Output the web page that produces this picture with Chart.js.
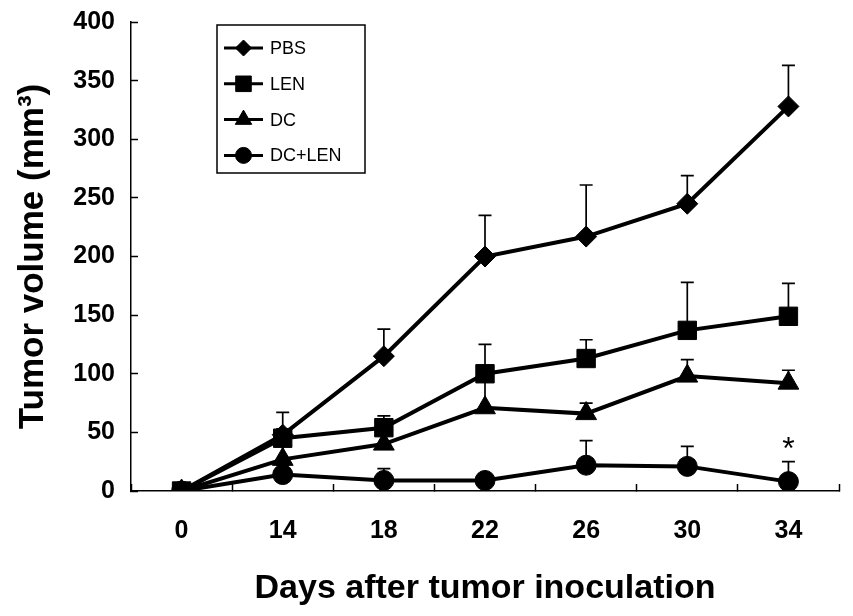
<!DOCTYPE html>
<html>
<head>
<meta charset="utf-8">
<script src="https://cdn.jsdelivr.net/npm/chart.js@4.4.0/dist/chart.umd.min.js"></script>
<style>
  body { margin: 0; background: #fff; }
  #wrap { width: 853px; height: 616px; }
</style>
</head>
<body>
<div id="wrap"><canvas id="tumor" width="853" height="616"></canvas></div>
<script>
var days = ['0', '14', '18', '22', '26', '30', '34'];

var pbs = [0, 48, 115, 200, 217, 245, 328];
var pbsErr = [0, 19, 23, 35, 44, 24, 35];

var len = [0, 45, 54, 100, 113, 137, 149];
var lenErr = [0, 8, 10, 25, 16, 41, 28];

var dc = [0, 27, 40, 71, 66, 98, 92];
var dcErr = [0, 17, 12, 28, 9, 14, 11];

var dcLen = [0, 14, 9, 9, 22, 21, 8];
var dcLenErr = [0, 8, 10, 4, 21, 17, 17];

var yTicks = [0, 50, 100, 150, 200, 250, 300, 350, 400];

var FONT = '"Liberation Sans", Arial, sans-serif';

function series(label, data, err, style, radius) {
  return {
    label: label,
    data: data,
    errors: err,
    borderColor: '#000',
    backgroundColor: '#000',
    borderWidth: 4,
    pointStyle: style,
    pointRadius: radius,
    pointHoverRadius: radius,
    pointBorderWidth: 1,
    pointBorderColor: '#000',
    pointBackgroundColor: '#000',
    tension: 0
  };
}

// upward error bars, drawn under the markers
var errorBars = {
  id: 'errorBars',
  beforeDatasetsDraw: function(chart) {
    var ctx = chart.ctx;
    var y = chart.scales.y;
    ctx.save();
    ctx.strokeStyle = '#000';
    ctx.lineWidth = 1.7;
    chart.data.datasets.forEach(function(ds, i) {
      var meta = chart.getDatasetMeta(i);
      meta.data.forEach(function(pt, j) {
        var e = ds.errors[j];
        if (!e) return;
        var top = y.getPixelForValue(ds.data[j] + e);
        ctx.beginPath();
        ctx.moveTo(pt.x, pt.y);
        ctx.lineTo(pt.x, top);
        ctx.moveTo(pt.x - 6.5, top);
        ctx.lineTo(pt.x + 6.5, top);
        ctx.stroke();
      });
    });
    ctx.restore();
  }
};

// significance star above the last DC+LEN error bar
var star = {
  id: 'star',
  afterDatasetsDraw: function(chart) {
    var ctx = chart.ctx;
    var ds = chart.data.datasets[3];
    var meta = chart.getDatasetMeta(3);
    var j = ds.data.length - 1;
    var pt = meta.data[j];
    var top = chart.scales.y.getPixelForValue(ds.data[j] + ds.errors[j]);
    ctx.save();
    ctx.fillStyle = '#000';
    ctx.font = '32px ' + FONT;
    ctx.textAlign = 'center';
    ctx.textBaseline = 'alphabetic';
    ctx.fillText('*', pt.x, top - 3);
    ctx.restore();
  }
};

// boxed legend in the upper left of the plot
var boxLegend = {
  id: 'boxLegend',
  afterDraw: function(chart) {
    var ctx = chart.ctx;
    var sizes = [8, 11, 9.5, 8];
    ctx.save();
    ctx.strokeStyle = '#000';
    ctx.lineWidth = 1.5;
    ctx.strokeRect(217, 25, 148, 148);
    chart.data.datasets.forEach(function(ds, i) {
      var cy = 48 + i * 35.8;
      ctx.strokeStyle = '#000';
      ctx.lineWidth = 3;
      ctx.beginPath();
      ctx.moveTo(224, cy);
      ctx.lineTo(263, cy);
      ctx.stroke();
      ctx.fillStyle = '#000';
      ctx.lineWidth = 1;
      Chart.helpers.drawPoint(ctx, {
        pointStyle: ds.pointStyle,
        radius: sizes[i],
        rotation: 0,
        borderWidth: 1
      }, 243.5, cy);
      ctx.fillStyle = '#000';
      ctx.font = '18px ' + FONT;
      ctx.textAlign = 'left';
      ctx.textBaseline = 'middle';
      ctx.fillText(ds.label, 270, cy + 1);
    });
    ctx.restore();
  }
};

var tumorCanvas = document.getElementById('tumor');

var tumorData = {
  labels: days,
  datasets: [
    series('PBS', pbs, pbsErr, 'rectRot', 10.5),
    series('LEN', len, lenErr, 'rect', 13),
    series('DC', dc, dcErr, 'triangle', 12),
    series('DC+LEN', dcLen, dcLenErr, 'circle', 10)
  ]
};

var tumorOptions = {
  responsive: false,
  animation: false,
  layout: {
    padding: { top: 22, right: 12, left: 0, bottom: 0 }
  },
  plugins: {
    legend: { display: false },
    tooltip: { enabled: false }
  },
  scales: {
    x: {
      type: 'category',
      offset: true,
      afterFit: function(scale) { scale.height = 125; },
      grid: {
        offset: true,
        drawOnChartArea: false,
        tickLength: -7,
        tickWidth: 1.5,
        tickColor: '#000'
      },
      border: { display: true, color: '#000', width: 1.5 },
      ticks: {
        color: '#000',
        padding: 32,
        maxRotation: 0,
        font: { family: FONT, size: 25, weight: 'bold' }
      },
      title: {
        display: true,
        text: 'Days after tumor inoculation',
        color: '#000',
        padding: { top: 0, bottom: 7 },
        font: { family: FONT, size: 34, weight: 'bold' }
      }
    },
    y: {
      min: 0,
      max: 400,
      afterFit: function(scale) {
        scale.width = 131;
        scale.paddingTop = 0;
        scale.paddingBottom = 0;
      },
      afterBuildTicks: function(scale) {
        scale.ticks = yTicks.map(function(v) { return { value: v }; });
      },
      grid: {
        drawOnChartArea: false,
        tickLength: -7,
        tickWidth: 1.5,
        tickColor: '#000'
      },
      border: { display: true, color: '#000', width: 1.5 },
      ticks: {
        color: '#000',
        padding: 23,
        font: { family: FONT, size: 25, weight: 'bold' }
      },
      title: {
        display: true,
        text: 'Tumor volume (mm³)',
        color: '#000',
        padding: { top: 12, bottom: 0 },
        font: { family: FONT, size: 35, weight: 'bold' }
      }
    }
  }
};

var tumorChart = new Chart(tumorCanvas, {
  type: 'line',
  data: tumorData,
  options: tumorOptions,
  plugins: [errorBars, star, boxLegend]
});
</script>
</body>
</html>
